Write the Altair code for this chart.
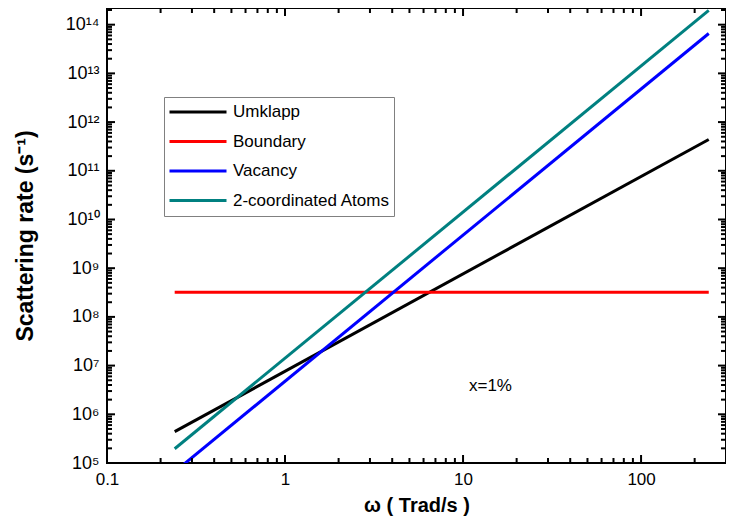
import json
import altair as alt
import pandas as pd

# ---------------- data ----------------
series_names = ["Umklapp", "Boundary", "Vacancy", "2-coordinated Atoms"]
series_colors = ["#000000", "#ff0000", "#0000ff", "#008080"]

omega_ends = [0.24, 240.0]           # Trad/s, start and end of every curve
umklapp = [4.4e5, 4.4e11]
boundary = [3.2e8, 3.2e8]
vacancy = [6.6e4, 6.6e13]
two_coord = [1.96e5, 1.96e14]

x_major = [0.1, 1, 10, 100]
x_minor = [0.2, 0.3, 0.4, 0.5, 0.6, 0.7, 0.8, 0.9,
           2, 3, 4, 5, 6, 7, 8, 9,
           20, 30, 40, 50, 60, 70, 80, 90, 200]
y_major = [1e5, 1e6, 1e7, 1e8, 1e9, 1e10, 1e11, 1e12, 1e13, 1e14]
y_minor = [m * 10.0 ** k for k in range(5, 15) for m in range(2, 10) if m * 10.0 ** k <= 2.2e14]
y_tick_labels = ["10⁵", "10⁶", "10⁷", "10⁸", "10⁹", "10¹⁰", "10¹¹", "10¹²", "10¹³", "10¹⁴"]

annotation_text = ["x=1%"]
annotation_omega = [10.8]
annotation_rate = [3.8e6]

# ---------------- tables ----------------
rows = []
for name, vals in zip(series_names, [umklapp, boundary, vacancy, two_coord]):
    for w, r in zip(omega_ends, vals):
        rows.append({"omega": w, "rate": r, "series": name})
df = pd.DataFrame(rows)
ann = pd.DataFrame({"omega": annotation_omega, "rate": annotation_rate, "label": annotation_text})
xmaj_df = pd.DataFrame({"omega": x_major})
xmin_df = pd.DataFrame({"omega": x_minor})
ymaj_df = pd.DataFrame({"rate": y_major})
ymin_df = pd.DataFrame({"rate": y_minor})

W, H = 619, 455
FONT = "Arial, Liberation Sans, sans-serif"
X_DOMAIN = [0.1, 300]
Y_DOMAIN = [1e5, 2.2e14]

xscale = alt.Scale(type="log", domain=X_DOMAIN, nice=False)
yscale = alt.Scale(type="log", domain=Y_DOMAIN, nice=False)

y_label_expr = json.dumps(y_tick_labels, ensure_ascii=False) + "[round(log(datum.value)/LN10) - 5]"

x_axis = alt.Axis(
    values=x_major, ticks=False, domain=False, grid=False,
    labelExpr="datum.value < 0.5 ? '0.1' : format(datum.value, 'd')",
    labelFontSize=17, labelFont=FONT, labelColor="black", labelPadding=8,
    labelFlush=False, labelOverlap=False,
    title="ω ( Trad/s )", titleFontSize=20, titleFont=FONT, titleFontWeight="bold",
    titleColor="black", titlePadding=8)
y_axis = alt.Axis(
    values=y_major, ticks=False, domain=False, grid=False,
    labelExpr=y_label_expr,
    labelFontSize=18, labelFont=FONT, labelColor="black", labelPadding=8,
    labelFlush=False, labelOverlap=False,
    title="Scattering rate (s⁻¹)", titleFontSize=23, titleFont=FONT, titleFontWeight="bold",
    titleColor="black", titlePadding=28)

X = alt.X("omega:Q", scale=xscale, axis=x_axis)
Y = alt.Y("rate:Q", scale=yscale, axis=y_axis)

lines = alt.Chart(df).mark_line(strokeWidth=3, clip=True).encode(
    x=X, y=Y,
    color=alt.Color("series:N", sort=series_names,
                    scale=alt.Scale(domain=series_names, range=series_colors),
                    legend=alt.Legend(
                        title=None, orient="none", legendX=57, legendY=89,
                        symbolType="stroke", symbolSize=3249, symbolStrokeWidth=3,
                        clipHeight=22, rowPadding=7.5, labelFontSize=17, labelFont=FONT,
                        labelColor="black", labelOffset=5, labelLimit=400, padding=4,
                        strokeColor="#808080", fillColor="white")),
)

# inward-pointing axis ticks on all four sides, drawn as short rules
MAJ, MIN = 8, 5
TICK_W = 2
tick_layers = []
for data, size in [(xmaj_df, MAJ), (xmin_df, MIN)]:
    tick_layers.append(
        alt.Chart(data).mark_rule(color="black", strokeWidth=TICK_W)
        .encode(x=X, y=alt.value(H), y2=alt.value(H - size)))
    tick_layers.append(
        alt.Chart(data).mark_rule(color="black", strokeWidth=TICK_W)
        .encode(x=X, y=alt.value(0), y2=alt.value(size)))
for data, size in [(ymaj_df, MAJ), (ymin_df, MIN)]:
    tick_layers.append(
        alt.Chart(data).mark_rule(color="black", strokeWidth=TICK_W)
        .encode(y=Y, x=alt.value(0), x2=alt.value(size)))
    tick_layers.append(
        alt.Chart(data).mark_rule(color="black", strokeWidth=TICK_W)
        .encode(y=Y, x=alt.value(W), x2=alt.value(W - size)))

text = alt.Chart(ann).mark_text(align="left", baseline="middle", fontSize=17, font=FONT,
                                color="black").encode(x=X, y=Y, text="label:N")

chart = alt.layer(lines, *tick_layers, text).properties(
    width=W, height=H,
    autosize=alt.AutoSizeParams(type="none"),
    padding={"left": 99, "top": 0, "right": 0, "bottom": 55},
).configure_view(stroke="black", strokeWidth=2)

chart.save("out.html", embed_options={"renderer": "svg", "actions": False})
